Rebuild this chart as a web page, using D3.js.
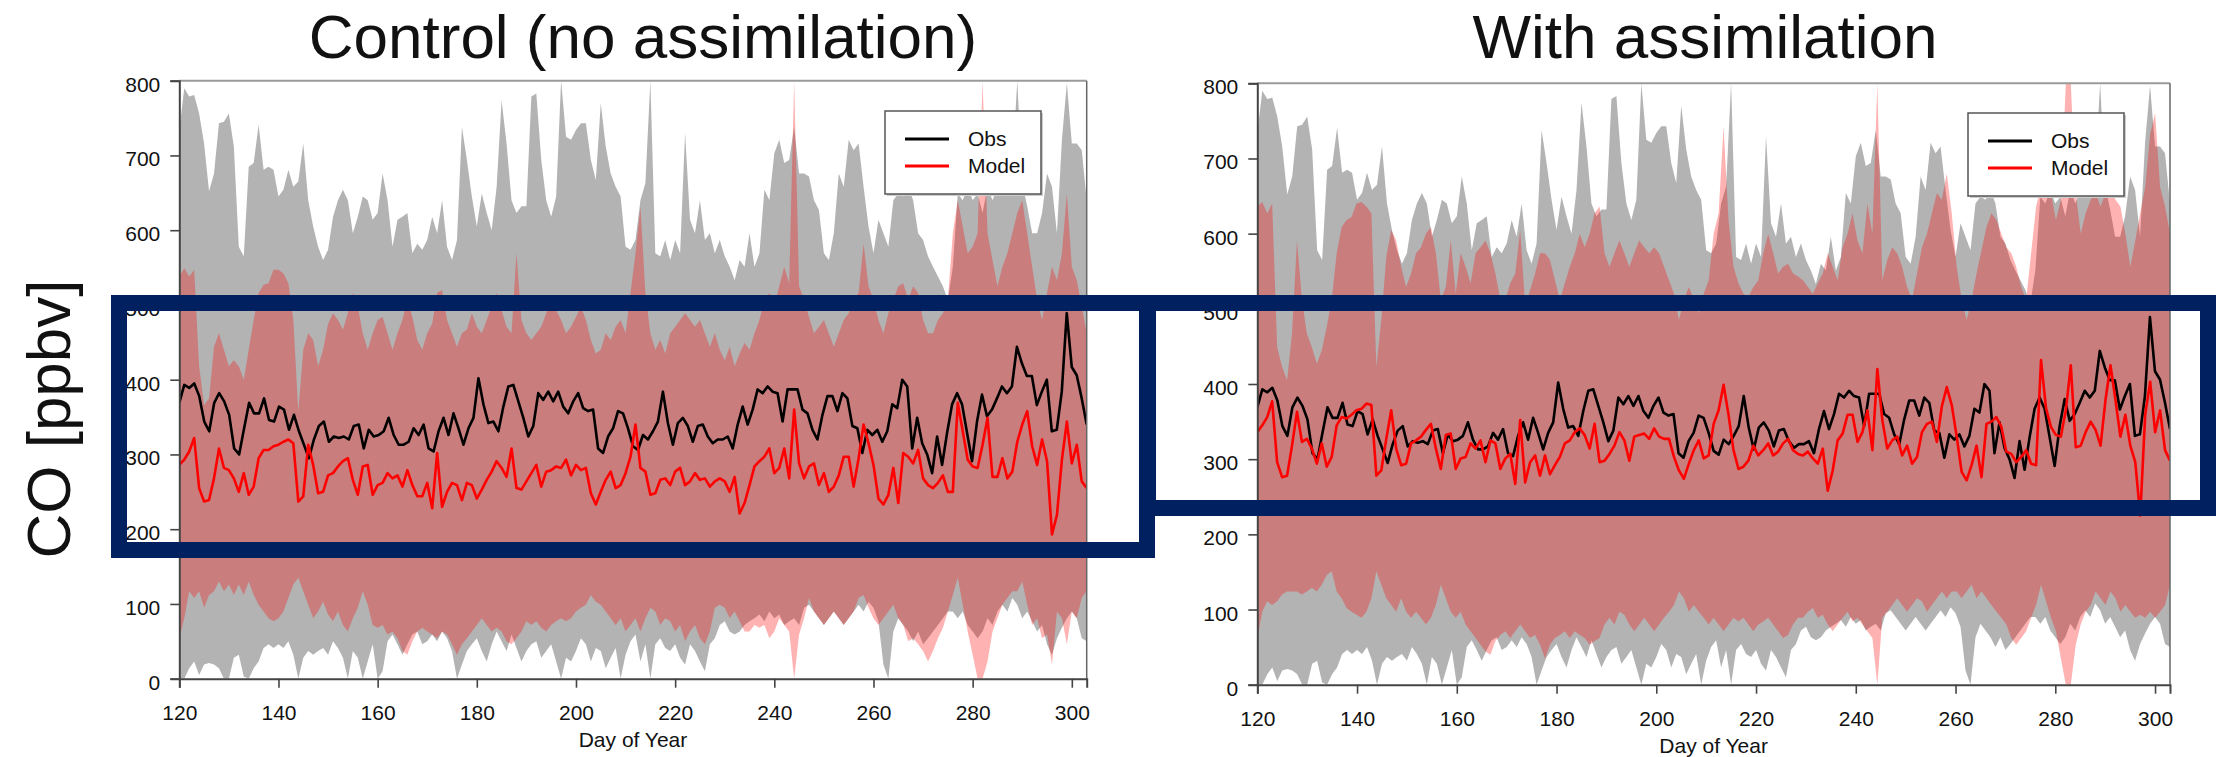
<!DOCTYPE html>
<html>
<head>
<meta charset="utf-8">
<script src="https://cdn.jsdelivr.net/npm/d3@7"></script>
<style>
  html, body { margin: 0; padding: 0; background: #fff; }
  svg { display: block; font-family: "Liberation Sans", Arial, Helvetica, sans-serif; }
</style>
</head>
<body>
<div id="chart"></div>
<script>
// day range shared by all series (samples spread evenly over it)
const dayStart = 120, dayEnd = 303;
const xTicks = [120, 140, 160, 180, 200, 220, 240, 260, 280, 300];
const yTicks = [0, 100, 200, 300, 400, 500, 600, 700, 800];
const titles = ["Control (no assimilation)", "With assimilation"];
const legendLabels = ["Obs", "Model"];

// observations (same in both panels)
const obs = [369,393,389,395,378,344,331,369,382,371,353,308,300,335,369,355,355,375,346,344,
364,360,333,353,331,313,295,320,338,344,317,324,322,324,320,338,340,308,333,324,
326,331,349,326,313,313,317,335,326,340,308,304,331,349,326,355,335,313,335,349,
402,367,342,344,331,364,391,393,371,349,324,338,382,373,384,371,384,364,355,371,
382,362,358,360,308,302,324,335,358,355,335,311,306,326,320,331,344,384,342,313,
342,349,338,317,338,340,324,315,320,320,324,308,340,364,340,360,387,382,391,384,
382,344,387,387,387,360,355,333,320,353,378,378,358,382,375,338,335,302,333,326,
333,317,331,367,362,400,391,308,349,315,300,275,324,286,329,367,382,367,329,291,
344,380,351,360,375,391,382,391,444,422,405,405,366,384,400,331,333,384,489,417,
406,375,340];
const obsHi = [734,790,779,781,756,716,652,676,743,745,756,712,578,565,685,690,741,681,685,681,
645,654,681,658,665,716,640,605,578,560,574,618,640,654,640,596,618,645,640,614,
623,676,640,578,614,618,623,569,582,574,587,618,596,640,578,560,587,738,694,645,
605,649,623,600,658,774,716,640,623,632,632,779,783,694,640,618,645,800,725,721,
734,743,743,694,667,770,712,676,658,645,578,574,587,640,663,800,569,565,587,560,
587,569,730,614,596,640,587,596,569,587,565,551,533,560,551,596,551,569,654,640,
703,721,690,694,738,676,676,672,640,627,569,560,596,676,658,721,707,716,658,605,
569,614,596,578,640,649,645,658,640,596,587,565,551,538,525,507,551,649,640,658,
640,649,623,658,640,658,676,658,685,800,663,632,596,596,623,676,658,596,721,797,
716,716,707,640];
const obsLo = [0,0,14,23,5,19,21,19,14,0,0,28,32,3,0,14,23,41,46,41,
46,41,50,32,0,28,37,32,37,41,32,50,41,28,0,37,28,0,23,46,
0,10,50,59,46,32,46,59,63,46,50,59,50,63,54,37,0,19,37,46,
54,37,23,46,63,50,37,59,41,23,37,46,50,28,37,46,23,0,28,23,
37,54,46,23,41,37,14,28,41,0,32,50,59,23,46,0,46,54,41,37,
46,28,19,46,37,23,10,46,54,72,77,63,59,63,72,77,81,86,77,90,
81,86,72,77,81,72,95,99,90,81,72,81,90,81,72,81,90,99,90,103,
95,77,19,0,63,81,72,63,50,63,46,54,63,72,81,90,90,81,90,72,
63,54,63,81,72,90,99,90,108,99,81,90,77,63,72,46,32,54,68,81,
90,81,54,50];

// control run
const ctlModel = [286,293,304,322,255,237,239,268,308,282,279,268,250,275,246,257,295,306,306,311,
313,317,320,315,237,244,313,286,248,250,272,275,284,291,295,266,246,284,286,246,
259,262,275,268,272,257,279,259,244,244,262,228,302,230,250,262,259,239,262,259,
241,253,266,277,291,282,270,308,255,253,264,275,286,257,277,279,284,282,293,272,
286,279,282,248,233,250,266,277,255,259,275,297,340,282,277,246,248,266,268,259,
277,282,259,264,275,266,268,257,264,268,264,250,270,221,235,259,284,291,297,308,
275,282,308,268,360,288,268,284,288,259,275,250,257,272,297,297,257,295,340,315,
286,241,233,246,282,235,302,297,288,306,268,259,255,262,272,250,250,369,331,293,
284,282,313,349,270,270,295,268,277,317,340,358,311,286,320,291,193,219,293,344,
288,313,264,255];
const ctlHi = [538,549,538,547,418,366,375,444,462,440,418,426,418,400,440,480,516,527,529,547,
547,542,529,480,357,440,462,453,418,440,475,489,480,467,489,516,498,462,440,462,
480,484,462,440,462,480,507,484,453,440,462,475,516,520,480,462,444,462,467,489,
471,462,480,498,516,493,471,462,569,480,462,453,462,471,489,507,493,480,462,471,
484,498,480,453,435,440,462,453,471,480,462,516,569,632,516,462,440,453,435,462,
471,480,489,480,471,480,462,444,462,440,426,444,418,435,449,440,462,480,507,516,
498,525,551,529,800,525,507,484,462,471,480,462,444,462,480,489,507,516,582,525,
507,480,462,489,507,525,529,507,525,516,480,462,462,480,489,507,596,640,605,569,
578,596,800,596,560,525,551,569,596,623,640,596,551,507,480,516,551,533,569,649,
551,533,498,462];
const ctlLo = [54,81,117,108,117,95,112,117,130,117,126,112,126,112,130,112,99,90,81,77,
81,90,108,126,135,117,99,81,90,103,86,77,90,72,63,81,95,117,99,72,
68,72,59,63,54,37,32,50,63,68,63,59,54,63,59,46,32,46,54,63,
72,81,72,63,68,63,50,46,54,63,77,72,77,68,63,72,77,81,77,81,
90,95,99,112,103,99,90,81,72,81,63,72,81,63,81,95,90,72,81,77,
63,72,50,63,72,54,46,63,95,99,95,81,90,77,63,63,72,68,72,54,
63,81,72,63,0,59,81,108,90,81,72,81,90,81,72,81,90,108,112,95,
81,72,81,90,99,81,72,50,54,46,37,23,37,54,68,90,112,135,99,63,
32,0,0,23,63,81,99,108,117,117,130,99,72,81,54,59,19,90,81,46,
90,81,108,117];

// assimilation run
const asmModel = [336,345,356,377,296,276,278,318,363,323,327,314,294,321,290,303,345,356,354,359,
365,367,374,372,278,285,327,365,314,292,294,321,325,330,339,347,314,287,332,334,
287,301,303,321,314,325,296,325,321,287,301,307,267,352,269,296,305,278,305,280,
292,303,321,325,336,341,332,314,347,296,298,307,318,336,325,298,330,332,334,327,
341,330,327,327,303,285,274,294,312,325,301,305,347,365,399,359,312,287,290,298,
318,305,312,321,305,310,321,327,312,307,305,310,301,294,314,258,285,325,334,359,
359,323,336,365,312,420,352,314,325,330,305,318,294,303,336,347,350,323,370,396,
372,330,283,272,292,318,276,347,350,356,343,310,307,296,303,312,294,292,432,368,
343,332,330,365,425,316,318,336,350,339,318,379,425,379,330,359,318,296,225,359,
403,336,365,312,298];
const asmHi = [636,642,627,640,449,423,405,467,591,512,467,449,427,445,476,512,574,609,618,622,
640,642,636,627,423,485,569,605,591,556,529,547,574,582,600,609,574,512,529,591,
520,574,556,534,574,582,591,574,547,512,512,534,547,605,503,525,547,574,574,565,
538,512,534,556,574,600,582,600,627,636,574,556,574,591,574,556,574,591,582,574,
582,574,556,538,520,485,512,529,512,494,520,538,600,627,742,618,556,534,520,516,
529,538,574,600,574,547,556,560,547,543,538,529,520,534,547,574,556,538,582,600,
627,591,574,640,600,800,538,565,582,574,556,529,512,547,582,600,627,654,645,680,
627,556,512,485,512,547,578,609,627,618,600,582,574,556,529,512,574,636,662,724,
654,618,645,800,800,654,600,627,645,654,636,654,662,645,636,600,556,591,627,662,
733,760,662,636,600];
const asmLo = [62,97,111,106,111,120,124,124,124,120,124,129,124,133,146,151,124,115,102,97,
93,89,97,115,151,133,115,106,97,115,97,89,97,89,80,89,106,133,115,97,
89,97,80,71,62,53,44,40,58,66,71,62,71,80,71,62,66,53,35,53,
62,66,71,62,71,66,62,53,58,62,80,89,80,97,93,80,71,80,89,80,
71,80,89,97,106,124,115,97,106,97,89,80,89,80,71,80,89,84,89,80,
71,80,84,89,80,71,62,66,80,89,89,97,102,89,93,80,71,80,89,97,
84,89,80,71,62,0,89,97,106,115,106,97,106,115,111,97,106,115,124,115,
124,124,115,124,133,115,124,115,106,97,89,80,62,53,62,71,89,106,133,111,
89,71,35,0,0,53,80,97,106,124,115,106,124,115,97,106,97,89,93,89,
97,89,97,106,133];

const W = 2216, H = 757;
const svg = d3.select("#chart").append("svg")
    .attr("width", W)
    .attr("height", H);

// index -> day, samples evenly over the axis range
function dayOf(i, n) { return dayStart + i * (dayEnd - dayStart) / (n - 1); }

function drawPanel(p) {
    var x = d3.scaleLinear().domain([dayStart, dayEnd]).range([p.left, p.right]);
    var y = d3.scaleLinear().domain([0, 800]).range([p.bottom, p.top]);

    var g = svg.append("g");

    g.append("clipPath").attr("id", p.id)
      .append("rect")
        .attr("x", p.left).attr("y", p.top)
        .attr("width", p.right - p.left).attr("height", p.bottom - p.top);

    var plot = g.append("g").attr("clip-path", "url(#" + p.id + ")");

    var band = (hi, lo) => d3.area()
        .x((d, i) => x(dayOf(i, hi.length)))
        .y0((d, i) => y(lo[i]))
        .y1((d, i) => y(hi[i]))(hi);

    plot.append("path").attr("d", band(obsHi, obsLo)).attr("fill", "#b3b3b3");
    plot.append("path").attr("d", band(p.hi, p.lo))
        .attr("fill", "#ff0000").attr("fill-opacity", 0.3);

    var line = arr => d3.line()
        .x((d, i) => x(dayOf(i, arr.length)))
        .y(d => y(d))(arr);

    plot.append("path").attr("d", line(obs))
        .attr("fill", "none").attr("stroke", "#000").attr("stroke-width", 2.6)
        .attr("stroke-linejoin", "round");
    plot.append("path").attr("d", line(p.model))
        .attr("fill", "none").attr("stroke", "#ff0000").attr("stroke-width", 2.6)
        .attr("stroke-linejoin", "round");

    // frame
    g.append("line").attr("x1", p.left).attr("x2", p.right)
        .attr("y1", p.top).attr("y2", p.top)
        .attr("stroke", "#9a9a9a").attr("stroke-width", 2);
    g.append("line").attr("x1", p.right).attr("x2", p.right)
        .attr("y1", p.top).attr("y2", p.bottom)
        .attr("stroke", "#666").attr("stroke-width", 1.5);

    var yAxis = g.append("g")
        .attr("transform", "translate(" + p.left + ",0)")
        .call(d3.axisLeft(y).tickValues(yTicks).tickSize(9).tickPadding(10));
    var xAxis = g.append("g")
        .attr("transform", "translate(0," + p.bottom + ")")
        .call(d3.axisBottom(x).tickValues(xTicks).tickSize(9).tickPadding(10));

    [yAxis, xAxis].forEach(a => {
        a.select(".domain").attr("stroke", "#444").attr("stroke-width", 2);
        a.selectAll(".tick line").attr("stroke", "#444").attr("stroke-width", 1.6);
        a.selectAll(".tick text")
            .attr("font-family", "'Liberation Sans', Arial, sans-serif")
            .attr("font-size", 21).attr("fill", "#111");
    });
    yAxis.selectAll(".tick text").attr("dy", "0.5em");
    xAxis.selectAll(".tick text").attr("dy", "1.05em");

    g.append("text")
        .attr("x", (p.left + p.right) / 2).attr("y", p.bottom + 68)
        .attr("text-anchor", "middle")
        .attr("font-size", 21).attr("fill", "#111")
        .text("Day of Year");

    g.append("text")
        .attr("x", p.titleX).attr("y", 58)
        .attr("text-anchor", "middle")
        .attr("font-size", 62).attr("fill", "#111")
        .text(p.title);

    // legend
    var lg = g.append("g").attr("transform", "translate(" + p.legX + "," + p.legY + ")");
    lg.append("rect").attr("x", 2).attr("y", 2).attr("width", 156).attr("height", 83)
        .attr("fill", "#ccc");
    lg.append("rect").attr("width", 156).attr("height", 83)
        .attr("fill", "#fff").attr("stroke", "#555").attr("stroke-width", 1.5);
    var colors = ["#000", "#ff0000"];
    legendLabels.forEach((lab, i) => {
        lg.append("line").attr("x1", 20).attr("x2", 64)
            .attr("y1", 28 + i * 27).attr("y2", 28 + i * 27)
            .attr("stroke", colors[i]).attr("stroke-width", 3);
        lg.append("text").attr("x", 83).attr("y", 35 + i * 27)
            .attr("font-size", 21).attr("fill", "#111").text(lab);
    });
}

drawPanel({ id: "clipL", left: 179.3, right: 1086.7, top: 80.7, bottom: 678.7,
    title: titles[0], titleX: 643, legX: 885, legY: 111,
    model: ctlModel, hi: ctlHi, lo: ctlLo });
drawPanel({ id: "clipR", left: 1257.3, right: 2170, top: 83.3, bottom: 684.7,
    title: titles[1], titleX: 1705, legX: 1968, legY: 113,
    model: asmModel, hi: asmHi, lo: asmLo });

// y label
svg.append("text")
    .attr("transform", "translate(70,419) rotate(-90)")
    .attr("text-anchor", "middle")
    .attr("font-size", 62).attr("fill", "#111")
    .text("CO [ppbv]");

// navy highlight boxes
svg.append("rect").attr("x", 119).attr("y", 303).attr("width", 1028).attr("height", 247)
    .attr("fill", "none").attr("stroke", "#00205f").attr("stroke-width", 16);
svg.append("rect").attr("x", 1148).attr("y", 303).attr("width", 1060).attr("height", 205)
    .attr("fill", "none").attr("stroke", "#00205f").attr("stroke-width", 16);
</script>
</body>
</html>
